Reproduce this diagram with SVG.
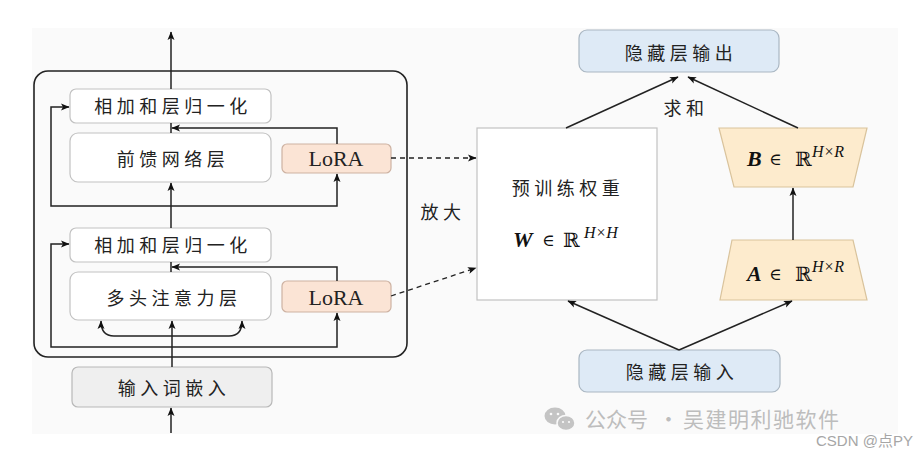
<svg xmlns="http://www.w3.org/2000/svg" width="921" height="454" viewBox="0 0 921 454">
<defs>
<marker id="ah" markerUnits="userSpaceOnUse" markerWidth="9" markerHeight="8" viewBox="0 0 9 8" refX="8" refY="4" orient="auto-start-reverse">
<path d="M0,0.5 L8.5,4 L0,7.5 L2,4 z" fill="#111"/>
</marker>
</defs>
<style>
.cn{font-family:"Noto Sans CJK SC","Noto Sans",sans-serif;font-size:18px;fill:#222;text-anchor:middle;letter-spacing:4.5px}
.box{fill:#fff;stroke:#c2c2c2;stroke-width:1.2}
.lora{fill:#fbe4d5;stroke:#cdb2a2;stroke-width:1.2}
.blue{fill:#deeaf6;stroke:#a9b6c2;stroke-width:1.2}
.trap{fill:#fdebcd;stroke:#d9c39c;stroke-width:1.2}
.lr{font-family:"Liberation Serif",serif;font-size:22px;fill:#222;text-anchor:middle}
.conn path{fill:none;stroke:#222;stroke-width:1.5}
.conn .dash{stroke-dasharray:5 4;stroke-width:1.3}
.mb{font-family:"Liberation Serif",serif;font-weight:bold;font-style:italic;font-size:22px;fill:#111}
.op{font-family:"DejaVu Serif",serif;font-size:17px;fill:#111}
.rr{font-family:"DejaVu Serif",serif;font-size:20px;fill:#111}
.sup{font-family:"Liberation Serif",serif;font-style:italic;font-size:16px;fill:#111}
.wm{font-family:"Noto Sans CJK SC","Noto Sans",sans-serif;font-size:21px;fill:#bdbdbd}
</style>
<rect x="0" y="0" width="921" height="454" fill="#fff"/>
<rect x="32" y="28" width="866" height="406" fill="#fafafa"/>

<g id="encoder">
<rect x="34" y="71" width="373" height="286" rx="14" fill="none" stroke="#222" stroke-width="1.6"/>
</g>

<g id="addnorm1"><rect class="box" x="70" y="89" width="201" height="34" rx="6"/><text class="cn" x="173" y="112.5">相加和层归一化</text></g>
<g id="ffn"><rect class="box" x="70" y="133" width="201" height="49" rx="8"/><text class="cn" x="173" y="165.5">前馈网络层</text></g>
<g id="lora1"><rect class="lora" x="282" y="144" width="109" height="29" rx="5"/><text class="lr" x="336" y="166">LoRA</text></g>
<g id="addnorm2"><rect class="box" x="70" y="228" width="201" height="34" rx="6"/><text class="cn" x="173" y="251.5">相加和层归一化</text></g>
<g id="attn"><rect class="box" x="70" y="272" width="201" height="48" rx="8"/><text class="cn" x="174" y="304.5">多头注意力层</text></g>
<g id="lora2"><rect class="lora" x="282" y="281" width="109" height="31" rx="5"/><text class="lr" x="336" y="305">LoRA</text></g>
<g id="embed"><rect x="72" y="367" width="200" height="40" rx="6" fill="#efefef" stroke="#b8b8b8" stroke-width="1.2"/><text class="cn" x="174" y="394.5">输入词嵌入</text></g>

<g id="hout"><rect class="blue" x="579" y="30" width="200" height="42" rx="8"/><text class="cn" x="681" y="59.5">隐藏层输出</text></g>
<g id="weight">
<rect class="box" x="477" y="128" width="180" height="172"/>
<text class="cn" x="568" y="194.5">预训练权重</text>
<text><tspan class="mb" x="513" y="247">W</tspan><tspan class="op" x="542" y="246">∈</tspan><tspan class="rr" x="563" y="247">ℝ</tspan><tspan class="sup" x="584" y="238">H×H</tspan></text>
</g>
<g id="matB">
<polygon class="trap" points="719,128 867,128 853,187 734,187"/>
<text><tspan class="mb" x="747" y="166">B</tspan><tspan class="op" x="769" y="165">∈</tspan><tspan class="rr" x="795" y="166">ℝ</tspan><tspan class="sup" x="812" y="157">H×R</tspan></text>
</g>
<g id="matA">
<polygon class="trap" points="732,240 853,240 867,300 720,300"/>
<text><tspan class="mb" x="747" y="281">A</tspan><tspan class="op" x="769" y="280">∈</tspan><tspan class="rr" x="795" y="281">ℝ</tspan><tspan class="sup" x="812" y="272">H×R</tspan></text>
</g>
<g id="hin"><rect class="blue" x="579" y="350" width="201" height="42" rx="8"/><text class="cn" x="682" y="378.5">隐藏层输入</text></g>

<g id="labels">
<text class="cn" x="686" y="114.5">求和</text>
<text class="cn" x="443" y="218.5">放大</text>
</g>

<g class="conn" id="connectors">
<path d="M171,89 V32" marker-end="url(#ah)"/>
<path d="M171,133 V123"/>
<path d="M337,144 V128 H172" marker-end="url(#ah)"/>
<path d="M171,228 V183" marker-end="url(#ah)"/>
<path d="M171,206 H51 V107 H69" marker-end="url(#ah)"/>
<path d="M171,206 H337 V174" marker-end="url(#ah)"/>
<path d="M171,262 V272"/>
<path d="M337,281 V267 H172" marker-end="url(#ah)"/>
<path d="M172,347 H51 V244 H69" marker-end="url(#ah)"/>
<path d="M172,347 H337 V313" marker-end="url(#ah)"/>
<path d="M172,367 V321" marker-end="url(#ah)"/>
<path d="M101,321 Q101,336 114,336 H229 Q242,336 242,321" marker-start="url(#ah)" marker-end="url(#ah)"/>
<path d="M171,433 V408" marker-end="url(#ah)"/>
<path class="dash" d="M391,158 H476" marker-end="url(#ah)"/>
<path class="dash" d="M391,296 L476,268" marker-end="url(#ah)"/>
<path d="M566,128 L678,77" marker-end="url(#ah)" stroke-width="1.3"/>
<path d="M798,128 L688,77" marker-end="url(#ah)" stroke-width="1.3"/>
<path d="M793,240 V188" marker-end="url(#ah)" stroke-width="1.3"/>
<path d="M679,350 L568,301" marker-end="url(#ah)" stroke-width="1.3"/>
<path d="M679,350 L792,301" marker-end="url(#ah)" stroke-width="1.3"/>
</g>

<g id="watermark">
<ellipse cx="555" cy="416" rx="10.5" ry="8.5" fill="#c4c4c4"/>
<ellipse cx="566" cy="423" rx="9" ry="7.5" fill="#c4c4c4" stroke="#fafafa" stroke-width="1.5"/>
<circle cx="551" cy="414" r="1.3" fill="#fafafa"/><circle cx="558" cy="414" r="1.3" fill="#fafafa"/>
<circle cx="563" cy="422" r="1.1" fill="#fafafa"/><circle cx="569" cy="422" r="1.1" fill="#fafafa"/>
<text class="wm" x="585" y="427">公众号</text>
<text class="wm" x="658" y="427">·</text>
<text class="wm" x="683" y="427" letter-spacing="1.5">吴建明利驰软件</text>
<text x="816" y="446" font-family="Liberation Sans, Arial, sans-serif" font-size="15" fill="#a6a6a6">CSDN @<tspan font-family="Noto Sans CJK SC, sans-serif">点</tspan>PY</text>
</g>
</svg>
